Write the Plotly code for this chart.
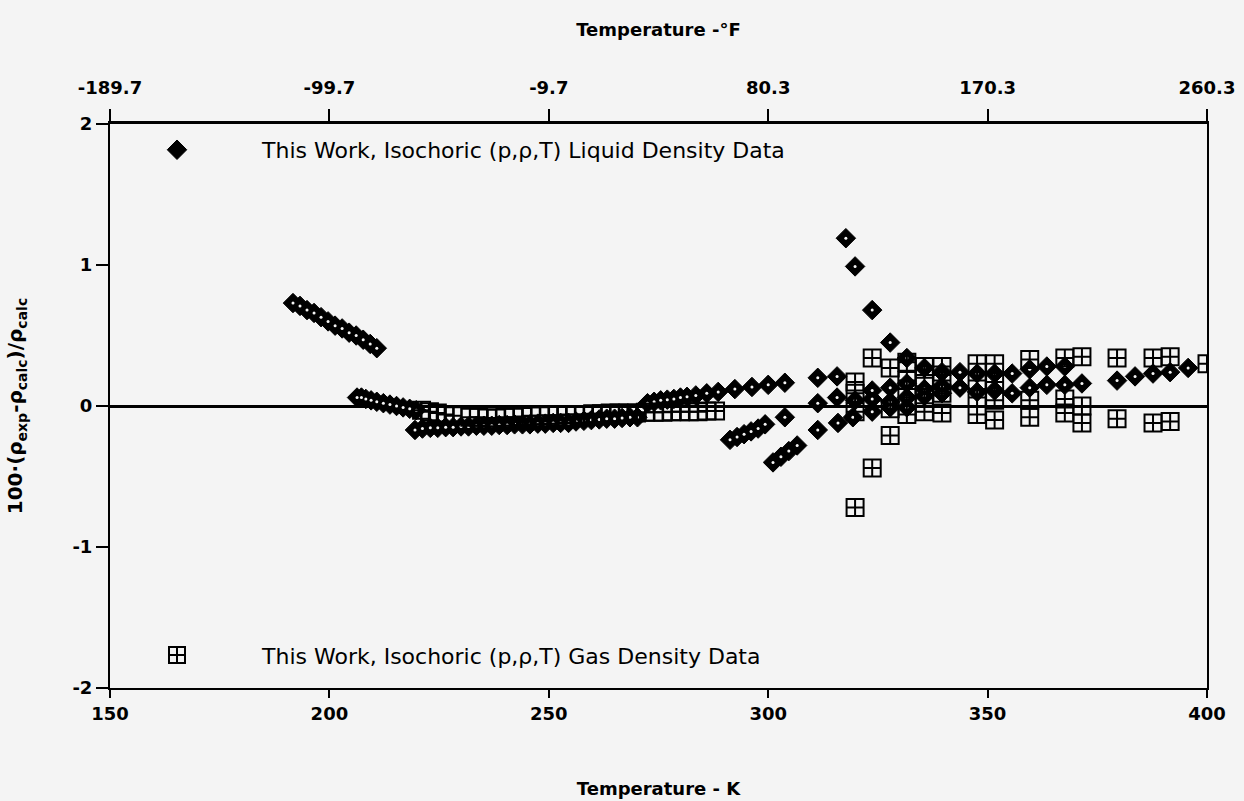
import plotly.graph_objects as go

# Axis ticks: Kelvin on the bottom, the same positions labelled in Fahrenheit on top
k_ticks = [150, 200, 250, 300, 350, 400]
f_labels = ["-189.7", "-99.7", "-9.7", "80.3", "170.3", "260.3"]
y_ticks = [-2, -1, 0, 1, 2]
y_labels = ["-2", "-1", "0", "1", "2"]

# Liquid isochores: temperature (K) and 100*(rho_exp - rho_calc)/rho_calc
liq1_T = [191.7, 193.3, 194.9, 196.5, 198.1, 199.7, 201.3, 202.9, 204.5, 206.1, 207.7, 209.3, 210.8]
liq1_dev = [0.73, 0.71, 0.68, 0.66, 0.63, 0.60, 0.57, 0.55, 0.52, 0.50, 0.47, 0.44, 0.41]

liq2_T = [206.3, 207.3, 208.3, 209.5, 210.8, 212.3, 213.8, 215.3, 216.8, 218.3, 219.8]
liq2_dev = [0.06, 0.06, 0.05, 0.04, 0.03, 0.02, 0.01, 0.00, -0.01, -0.02, -0.03]

liq3_T = [219.5, 221.2, 223.0, 224.7, 226.5, 228.2, 230.0, 231.7, 233.5, 235.2, 237.0, 238.7,
          240.5, 242.2, 244.0, 245.7, 247.5, 249.2, 251.0, 252.7, 254.5, 256.2, 258.0, 259.7,
          261.5, 263.2, 265.0, 266.7, 268.5, 270.2]
liq3_dev = [-0.17, -0.16, -0.155, -0.155, -0.15, -0.15, -0.145, -0.145, -0.14, -0.14, -0.14, -0.135,
            -0.135, -0.13, -0.13, -0.13, -0.125, -0.125, -0.12, -0.12, -0.12, -0.11, -0.105, -0.10,
            -0.095, -0.09, -0.09, -0.085, -0.08, -0.08]

liq4_T = [272.5, 274.0, 275.5, 277.0, 278.5, 280.0, 281.5, 283.5, 286.0, 288.6, 292.4, 296.3,
          300.0, 303.8, 311.3, 315.7]
liq4_dev = [0.02, 0.03, 0.04, 0.045, 0.05, 0.06, 0.065, 0.075, 0.09, 0.10, 0.12, 0.135,
            0.15, 0.165, 0.20, 0.21]

liq5_T = [291.3, 292.9, 294.5, 296.1, 297.7, 299.3, 303.8]
liq5_dev = [-0.24, -0.22, -0.20, -0.18, -0.16, -0.13, -0.08]

liq6_T = [301.1, 302.9, 304.7, 306.6]
liq6_dev = [-0.40, -0.36, -0.32, -0.28]

liq7_T = [311.3, 315.9, 319.3, 323.7, 327.8, 331.6]
liq7_dev = [-0.17, -0.12, -0.08, -0.04, -0.01, -0.01]

liq8_T = [311.3, 315.7, 319.8, 323.7, 327.8, 331.6, 335.6, 339.6]
liq8_dev = [0.02, 0.06, 0.04, 0.05, 0.03, 0.06, 0.07, 0.09]

liq9_T = [317.7, 319.8, 323.7, 327.8, 331.6, 335.6, 339.6, 343.7, 347.6, 351.6, 355.6, 359.6,
          363.5, 367.6]
liq9_dev = [1.19, 0.99, 0.68, 0.45, 0.34, 0.27, 0.24, 0.24, 0.23, 0.23, 0.23, 0.26, 0.28, 0.28]

liq10_T = [323.7, 327.8, 331.6, 335.6, 339.6, 343.7, 347.6, 351.6, 355.6, 359.6, 363.5, 367.6, 371.5]
liq10_dev = [0.11, 0.13, 0.16, 0.12, 0.14, 0.13, 0.10, 0.11, 0.09, 0.13, 0.15, 0.15, 0.16]

liq11_T = [379.5, 383.6, 387.7, 391.6, 395.7]
liq11_dev = [0.18, 0.21, 0.23, 0.24, 0.27]

# Gas isochores
gas1_T = [221.0, 222.8, 224.6, 226.4, 228.2, 232.0, 234.0, 236.0, 238.0, 240.0, 242.0, 244.0,
          246.0, 248.0, 250.0, 252.0, 254.0, 256.0, 258.0, 260.0, 262.0, 264.0, 266.0, 268.0,
          270.0, 272.0, 274.0, 276.0, 278.0, 280.0, 282.0, 284.0, 286.0, 288.0]
gas1_dev = [-0.03, -0.04, -0.05, -0.06, -0.07, -0.08, -0.08, -0.085, -0.085, -0.08, -0.08, -0.075,
            -0.07, -0.07, -0.065, -0.065, -0.06, -0.06, -0.06, -0.055, -0.055, -0.05, -0.05, -0.05,
            -0.05, -0.045, -0.045, -0.045, -0.04, -0.04, -0.04, -0.04, -0.035, -0.035]

gas2_T = [319.8, 319.8, 319.8, 319.8, 323.7, 323.7, 327.8, 327.8, 327.8,
          331.6, 331.6, 331.6, 331.6, 335.6, 335.6, 335.6, 335.6, 339.6, 339.6, 339.6, 339.6,
          347.6, 347.6, 347.6, 347.6, 351.6, 351.6, 351.6, 351.6, 359.6, 359.6, 359.6,
          367.6, 367.6, 367.6, 371.5, 371.5, 371.5, 379.5, 379.5, 387.7, 387.7, 391.6, 391.6, 400.0]
gas2_dev = [0.17, 0.09, -0.04, -0.72, 0.34, -0.44, 0.27, -0.02, -0.21,
            0.31, 0.18, 0.06, -0.06, 0.28, 0.20, 0.06, -0.04, 0.28, 0.18, 0.09, -0.05,
            0.30, 0.18, 0.06, -0.06, 0.30, 0.17, 0.04, -0.10, 0.33, 0.04, -0.08,
            0.34, 0.05, -0.05, 0.35, 0.00, -0.12, 0.34, -0.09, 0.34, -0.12, 0.35, -0.11, 0.30]

liquid_T = liq1_T + liq2_T + liq3_T + liq4_T + liq5_T + liq6_T + liq7_T + liq8_T + liq9_T + liq10_T + liq11_T
liquid_dev = (liq1_dev + liq2_dev + liq3_dev + liq4_dev + liq5_dev + liq6_dev + liq7_dev
              + liq8_dev + liq9_dev + liq10_dev + liq11_dev)
gas_T = gas1_T + gas2_T
gas_dev = gas1_dev + gas2_dev

BG = "#f4f4f4"
FONT = "DejaVu Sans"

fig = go.Figure()

fig.add_trace(go.Scatter(
    x=liquid_T, y=liquid_dev, mode="markers",
    name="This Work, Isochoric (p,\u03c1,T) Liquid Density Data",
    marker=dict(symbol="diamond", size=15, color="black", line=dict(color="black", width=1)),
    legend="legend", hoverinfo="x+y",
))
# small light centre of each diamond
fig.add_trace(go.Scatter(
    x=liquid_T, y=liquid_dev, mode="markers", showlegend=False, hoverinfo="skip",
    marker=dict(symbol="circle", size=3, color=BG, line=dict(width=0)),
))
fig.add_trace(go.Scatter(
    x=gas_T, y=gas_dev, mode="markers",
    name="This Work, Isochoric (p,\u03c1,T) Gas Density Data",
    marker=dict(symbol="square-cross-open", size=17, color="black", line=dict(color="black", width=2)),
    legend="legend2", hoverinfo="x+y",
))
# invisible carrier so the Fahrenheit axis on top is laid out
fig.add_trace(go.Scatter(
    x=[k_ticks[0], k_ticks[-1]], y=[0, 0], xaxis="x2", mode="markers",
    marker=dict(opacity=0), showlegend=False, hoverinfo="skip",
))

axis_font = dict(family=FONT, size=18, color="black", weight="bold")
title_font = dict(family=FONT, size=18, color="black", weight="bold")

fig.update_layout(
    width=1244, height=801,
    margin=dict(l=110, r=37, t=124, b=113),
    paper_bgcolor=BG, plot_bgcolor=BG,
    font=dict(family=FONT, color="black"),
    xaxis=dict(
        range=[150, 400], tickvals=k_ticks, ticks="outside", ticklen=8, tickwidth=2,
        tickcolor="black", showline=True, linewidth=2, linecolor="black",
        showgrid=False, zeroline=False, tickfont=axis_font, automargin=False,
        title=dict(text="Temperature - K", font=title_font, standoff=60),
    ),
    xaxis2=dict(
        overlaying="x", side="top", anchor="y",
        range=[150, 400], tickvals=k_ticks, ticktext=f_labels,
        ticks="outside", ticklen=12, tickwidth=2, tickcolor="black",
        showline=True, linewidth=3, linecolor="black", ticklabelstandoff=8,
        showgrid=False, zeroline=False, tickfont=axis_font, automargin=False,
        title=dict(text="Temperature -\u00b0F", font=title_font, standoff=36),
    ),
    yaxis=dict(
        range=[-2, 2], tickvals=y_ticks, ticktext=y_labels, ticks="outside", ticklen=12,
        tickwidth=2, tickcolor="black", showline=True, linewidth=2, linecolor="black",
        mirror=True, showgrid=False, zeroline=True, zerolinecolor="black", zerolinewidth=3,
        tickfont=axis_font, automargin=False,
        title=dict(text="100\u00b7(\u03c1<sub>exp</sub>-\u03c1<sub>calc</sub>)/\u03c1<sub>calc</sub>",
                   font=dict(family=FONT, size=20, color="black", weight="bold"), standoff=44),
    ),
    legend=dict(x=-0.0164, y=0.954, xanchor="left", yanchor="middle", bgcolor="rgba(0,0,0,0)",
                font=dict(family=FONT, size=22, color="black"), itemwidth=160),
    legend2=dict(x=-0.0164, y=0.058, xanchor="left", yanchor="middle", bgcolor="rgba(0,0,0,0)",
                 font=dict(family=FONT, size=22, color="black"), itemwidth=160),
)

fig.write_html("out.html")
